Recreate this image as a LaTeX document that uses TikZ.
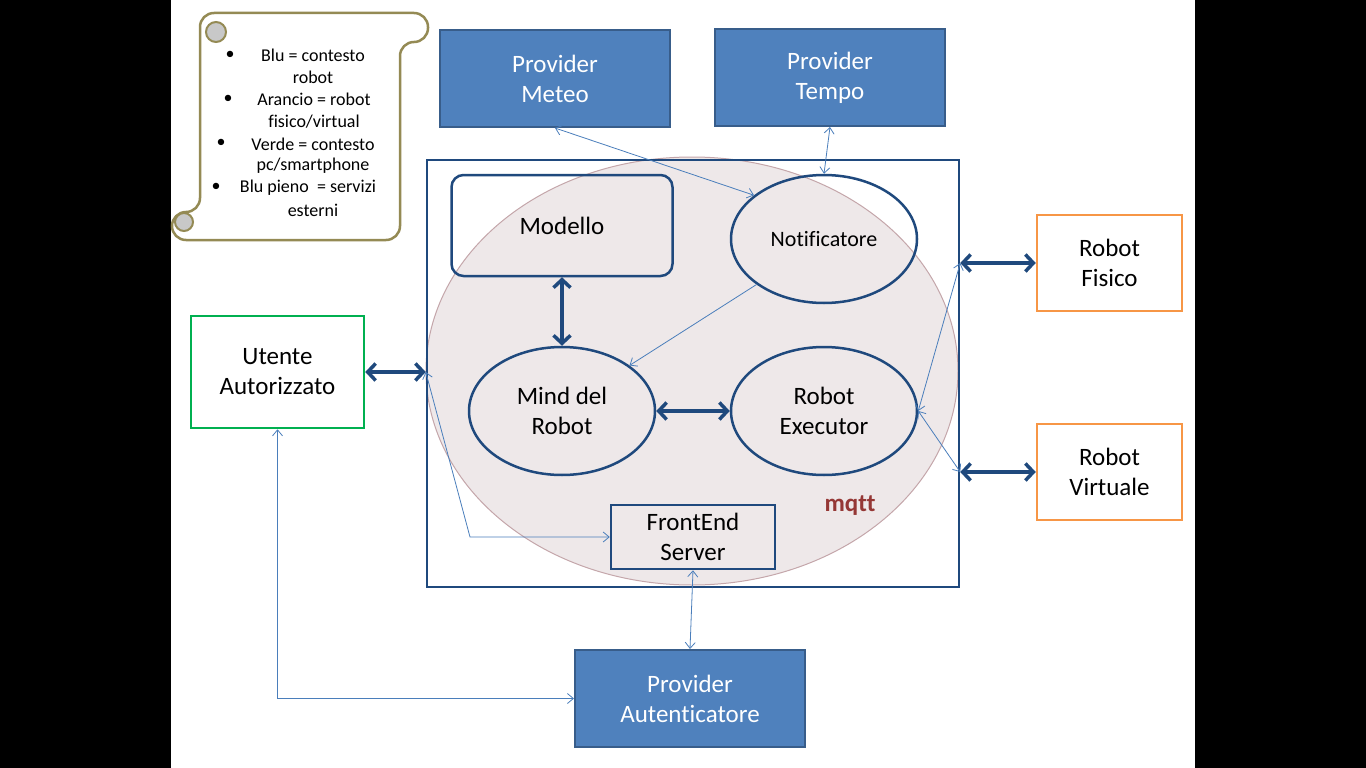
\documentclass[tikz,border=0pt]{standalone}
\usepackage{fontspec}
\setmainfont[Ligatures=NoCommon]{Carlito}
\usetikzlibrary{shapes.geometric,arrows.meta}
\definecolor{navy}{HTML}{1F497D}
\definecolor{provfill}{HTML}{4F81BD}
\definecolor{provedge}{HTML}{385D8A}
\definecolor{thinblue}{HTML}{4A7EBB}
\definecolor{cloudfill}{HTML}{EEE8E9}
\definecolor{cloudedge}{HTML}{C4A6AA}
\definecolor{scrollc}{HTML}{948A54}
\definecolor{curlfill}{HTML}{C8C8C8}
\definecolor{greenc}{HTML}{00B050}
\definecolor{orangec}{HTML}{F79646}
\definecolor{mqttc}{HTML}{953735}
\begin{document}
\begin{tikzpicture}[x=1pt,y=-1pt,
  txt/.style={font=\fontsize{25}{30}\selectfont, align=center, inner sep=0pt},
  provbox/.style={txt, draw=provedge, line width=2pt, fill=provfill, text=white, minimum width=230pt, minimum height=97pt},
  inbox/.style={txt, draw=navy, line width=2.5pt},
  oval/.style={txt, ellipse, draw=navy, line width=2.5pt, minimum width=186pt, minimum height=128pt},
  extbox/.style={txt, draw, line width=2.5pt, fill=white},
  thick link/.style={draw=navy, line width=3.5pt, {Straight Barb[length=8pt,width=17pt]}-{Straight Barb[length=8pt,width=17pt]}},
  thin link/.style={draw=thinblue, line width=0.8pt},
  tip/.tip={Straight Barb[length=6pt,width=10pt]},
  legend/.style={font=\fontsize{18}{22}\selectfont, inner sep=0pt}
]
\useasboundingbox (0,0) rectangle (1366,768);
\fill[black] (0,0) rectangle (1366,768);
\fill[white] (171,0) rectangle (1195,768);

% scroll legend
\draw[scrollc, line width=2.5pt, fill=white, rounded corners=14pt]
  (200,212) -- (200,13) -- (428,13) -- (428,42) -- (400,42) -- (400,240) -- (172,240) -- (172,212) -- cycle;
\draw[scrollc, line width=2pt, fill=curlfill] (216,32) circle [radius=10];
\draw[scrollc, line width=2pt, fill=curlfill] (184,222) circle [radius=9];
\node[legend] (b1) at (230,55) {\textbullet};
\node[legend] (l1) at (313,55) {Blu = contesto};
\node[legend] (l2) at (313,77) {robot};
\node[legend] (b2) at (228,99) {\textbullet};
\node[legend] (l3) at (314,99) {Arancio = robot};
\node[legend] (l4) at (314,122) {fisico/virtual};
\node[legend] (b3) at (221,143) {\textbullet};
\node[legend] (l5) at (313,144) {Verde = contesto};
\node[legend] (l6) at (313,166) {pc/smartphone};
\node[legend] (b4) at (216,187) {\textbullet};
\node[legend] (l7) at (308,188) {Blu pieno\ \ = servizi};
\node[legend] (l8) at (313,210) {esterni};

% providers
\node[provbox] (meteo) at (555,78.5) {Provider\\Meteo};
\node[provbox] (tempo) at (830,77.5) {Provider\\Tempo};
\node[provbox] (auth) at (690,698.5) {Provider\\Autenticatore};

% cloud and frame
\node[ellipse, fill=cloudfill, draw=cloudedge, line width=1pt, minimum width=532pt, minimum height=428pt, inner sep=0pt] (cloud) at (692,371) {};
\node[draw=navy, line width=2.5pt, minimum width=532pt, minimum height=427pt, inner sep=0pt] (frame) at (693,373.5) {};

% inner components
\node[inbox, rounded corners=12pt, minimum width=221pt, minimum height=101pt] (modello) at (562,225.5) {};
\node[txt] (modellot) at (562,226) {Modello};
\node[oval, font=\fontsize{22}{26}\selectfont] (notif) at (824,239) {Notificatore};
\node[oval] (mind) at (562,411) {Mind del\\Robot};
\node[oval] (exec) at (824,411) {Robot\\Executor};
\node[inbox, minimum width=164pt, minimum height=64pt] (fe) at (693,537) {FrontEnd\\Server};
\node[font=\fontsize{25}{28}\selectfont\bfseries, text=mqttc, inner sep=0pt] (mqtt) at (850,506) {mqtt};

% external boxes
\node[extbox, draw=greenc, minimum width=173pt, minimum height=112pt] (utente) at (277.5,372) {Utente\\Autorizzato};
\node[extbox, draw=orangec, minimum width=145pt, minimum height=96pt] (rf) at (1109.5,263) {Robot\\Fisico};
\node[extbox, draw=orangec, minimum width=145pt, minimum height=96pt] (rv) at (1109.5,472) {Robot\\Virtuale};

% anchor points on the frame
\coordinate (fL) at (utente.east -| frame.west);
\coordinate (fR1) at (rf.west -| frame.east);
\coordinate (fR2) at (rv.west -| frame.east);
\coordinate (bend) at (470,537);
\coordinate (corner) at (utente.south |- auth.west);

% thick links
\draw[thick link] (modello.south) -- (mind.north);
\draw[thick link] (mind.east) -- (exec.west);
\draw[thick link] (utente.east) -- (fL);
\draw[thick link] (fR1) -- (rf.west);
\draw[thick link] (fR2) -- (rv.west);

% thin links
\draw[thin link, tip-tip] (meteo.south) -- (notif.148);
\draw[thin link, tip-tip] (tempo.south) -- (notif.north);
\draw[thin link, -tip] (notif.214) -- (mind.34);
\draw[thin link, tip-tip] (exec.east) -- (fR1);
\draw[thin link, tip-tip] (exec.east) -- (fR2);
\draw[thin link, tip-tip] (fL) -- (bend) -- (fe.west);
\draw[thin link, tip-tip] (fe.south) -- (auth.north);
\draw[thin link, tip-tip] (utente.south) -- (corner) -- (auth.west);
\end{tikzpicture}
\end{document}
